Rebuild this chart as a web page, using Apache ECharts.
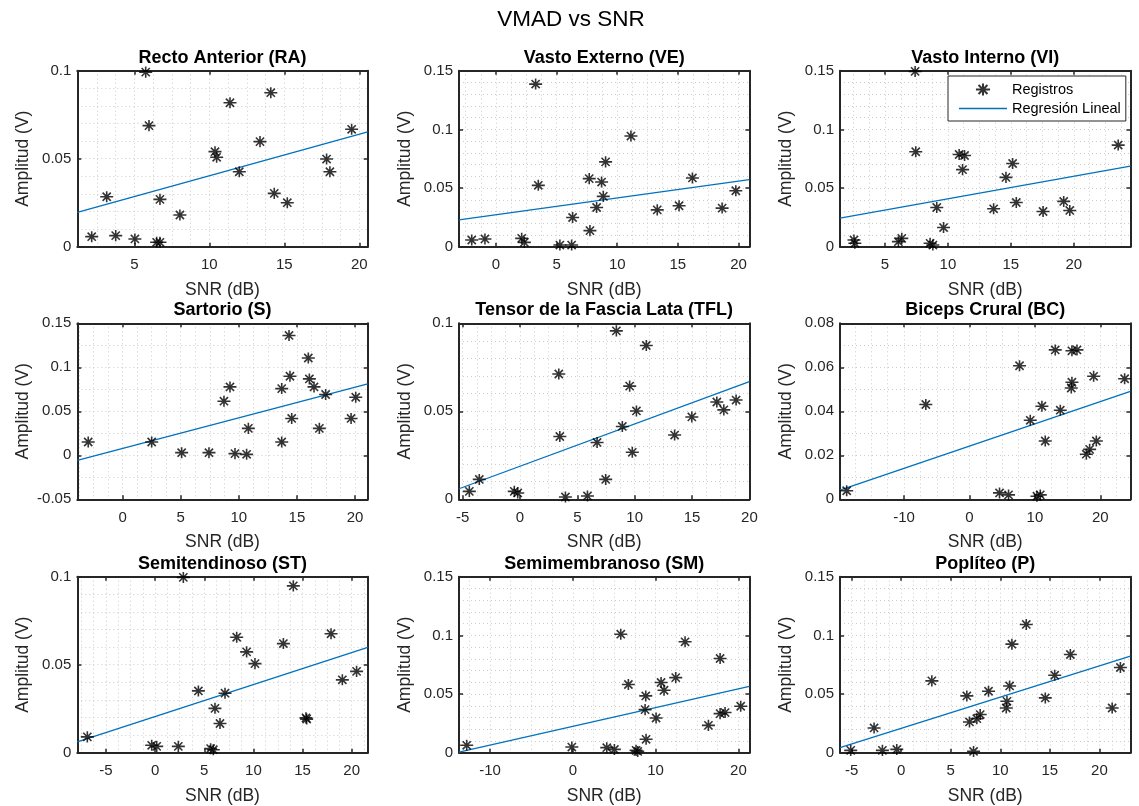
<!DOCTYPE html>
<html>
<head>
<meta charset="utf-8">
<title>VMAD vs SNR</title>
<script src="https://cdn.jsdelivr.net/npm/echarts@6/dist/echarts.min.js"></script>
<style>
  html, body { margin: 0; padding: 0; background: #ffffff; }
  #chart { width: 1139px; height: 806px; }
</style>
</head>
<body>
<div id="chart"></div>
<script>
// ---- Muscle names (subplot titles) ----
const panelTitles = [
  'Recto Anterior (RA)', 'Vasto Externo (VE)', 'Vasto Interno (VI)',
  'Sartorio (S)', 'Tensor de la Fascia Lata (TFL)', 'Biceps Crural (BC)',
  'Semitendinoso (ST)', 'Semimembranoso (SM)', 'Poplíteo (P)'
];

// ---- Recorded SNR (dB) and amplitude (V) per muscle ----
const raSNR = [2.16, 3.16, 3.76, 5.04, 5.76, 5.98, 6.49, 6.71, 6.71, 8.04, 10.38, 10.49, 11.38, 12.0, 13.38, 14.1, 14.33, 15.2, 17.82, 18.04, 19.49];
const raAmp = [0.0057, 0.0284, 0.0063, 0.0044, 0.0992, 0.0688, 0.0025, 0.0025, 0.0269, 0.018, 0.054, 0.0508, 0.0818, 0.0426, 0.0597, 0.0875, 0.0303, 0.025, 0.0498, 0.0426, 0.0667];

const veSNR = [-2.0, -0.91, 2.12, 2.34, 3.27, 3.49, 5.27, 6.24, 6.32, 7.75, 7.69, 8.30, 8.71, 8.85, 9.04, 11.13, 13.30, 15.1, 16.2, 18.65, 19.78];
const veAmp = [0.0057, 0.0066, 0.0071, 0.0037, 0.1386, 0.0523, 0.0014, 0.0014, 0.0249, 0.0137, 0.058, 0.0334, 0.0551, 0.0429, 0.0723, 0.0943, 0.0314, 0.0349, 0.0586, 0.0329, 0.0477];

const viSNR = [2.53, 2.6, 6.06, 6.33, 7.39, 7.44, 8.58, 8.80, 9.11, 9.65, 10.89, 11.32, 11.16, 14.61, 15.14, 13.63, 15.43, 17.56, 19.2, 19.68, 23.53];
const viAmp = [0.0057, 0.0029, 0.0043, 0.0071, 0.1494, 0.0809, 0.0029, 0.0014, 0.0334, 0.0163, 0.0786, 0.0777, 0.0657, 0.0591, 0.0709, 0.0323, 0.0377, 0.03, 0.0386, 0.0309, 0.0866];

const sSNR = [-2.96, 2.5, 5.08, 7.43, 9.67, 10.67, 10.82, 8.72, 9.24, 13.69, 13.69, 14.32, 14.4, 14.55, 15.98, 16.07, 16.47, 16.93, 17.47, 19.66, 20.06];
const sAmp = [0.0151, 0.0151, 0.003, 0.003, 0.0019, 0.0011, 0.0306, 0.0615, 0.0777, 0.0151, 0.0758, 0.1362, 0.0898, 0.0419, 0.1106, 0.0868, 0.0777, 0.0306, 0.0691, 0.0419, 0.066];

const tflSNR = [-4.42, -3.55, -0.5, -0.2, 3.38, 3.47, 3.96, 5.88, 6.72, 7.47, 8.4, 8.92, 9.56, 9.79, 10.15, 11.01, 13.48, 14.98, 17.16, 17.77, 18.84];
const tflAmp = [0.0045, 0.0113, 0.0045, 0.0036, 0.0712, 0.0357, 0.0013, 0.0019, 0.0323, 0.0113, 0.0957, 0.0414, 0.0643, 0.0267, 0.0502, 0.0874, 0.0365, 0.0468, 0.0553, 0.0508, 0.0564];

const bcSNR = [-18.78, -6.68, 4.59, 5.97, 7.65, 9.29, 10.31, 10.82, 11.07, 11.58, 13.11, 13.88, 15.66, 16.43, 15.66, 15.56, 17.86, 18.37, 18.98, 19.39, 23.72];
const bcAmp = [0.0039, 0.0431, 0.0029, 0.002, 0.0607, 0.0359, 0.0014, 0.002, 0.0423, 0.0265, 0.0679, 0.0405, 0.0675, 0.0679, 0.0532, 0.0506, 0.0205, 0.0227, 0.0559, 0.0265, 0.0548];

const stSNR = [-6.9, -0.35, 0.16, 2.36, 2.87, 4.4, 5.65, 5.92, 6.09, 6.6, 7.11, 8.3, 9.31, 10.16, 13.05, 14.06, 15.35, 15.42, 17.9, 19.05, 20.5];
const stAmp = [0.009, 0.0042, 0.0036, 0.0036, 0.0996, 0.0351, 0.0023, 0.0017, 0.0252, 0.0166, 0.0338, 0.0656, 0.0573, 0.0506, 0.062, 0.0948, 0.0198, 0.0191, 0.0676, 0.0414, 0.0462];

const smSNR = [-12.82, -0.12, 4.1, 5.02, 5.79, 6.71, 7.64, 7.84, 8.85, 8.81, 8.73, 10.06, 10.66, 11.02, 12.43, 13.56, 16.38, 17.79, 17.79, 18.39, 20.28];
const smAmp = [0.0063, 0.0048, 0.0043, 0.0028, 0.101, 0.0581, 0.002, 0.0011, 0.0114, 0.0484, 0.0367, 0.0296, 0.0598, 0.0532, 0.064, 0.0945, 0.0233, 0.0803, 0.0333, 0.0342, 0.0396];

const pSNR = [-5.1, -2.74, -1.9, -0.45, 3.09, 6.62, 6.89, 7.3, 7.63, 7.97, 8.81, 10.6, 10.67, 10.94, 11.17, 12.62, 14.54, 15.49, 17.07, 21.29, 22.12];
const pAmp = [0.002, 0.0211, 0.002, 0.0028, 0.0612, 0.0484, 0.0262, 0.0011, 0.029, 0.0325, 0.0524, 0.0381, 0.0438, 0.0569, 0.0925, 0.1093, 0.0467, 0.066, 0.0837, 0.0381, 0.0726];

// ---- Linear regression line end points [SNR, amplitude] ----
const raFit  = [[1.2, 0.0195], [20.56, 0.0652]];
const veFit  = [[-3.05, 0.0229], [20.9, 0.0571]];
const viFit  = [[1.42, 0.0243], [24.5, 0.0686]];
const sFit   = [[-3.9, -0.0057], [21.09, 0.0811]];
const tflFit = [[-5.32, 0.006], [20.0, 0.0669]];
const bcFit  = [[-19.8, 0.0042], [24.6, 0.0491]];
const stFit  = [[-7.92, 0.0061], [21.63, 0.0599]];
const smFit  = [[-13.75, 0.0005], [21.33, 0.0566]];
const pFit   = [[-6.18, 0.0043], [23.13, 0.0823]];

// ---- Axis limits and tick labels ----
const xLimits = [[1.2, 20.56], [-3.05, 20.9], [1.42, 24.5], [-3.9, 21.09], [-5.32, 20.0], [-19.8, 24.6], [-7.92, 21.63], [-13.75, 21.33], [-6.18, 23.13]];
const yLimits = [[0, 0.1], [0, 0.15], [0, 0.15], [-0.05, 0.15], [0, 0.1], [0, 0.08], [0, 0.1], [0, 0.15], [0, 0.15]];
const xTicks = [
  [5, 10, 15, 20], [0, 5, 10, 15, 20], [5, 10, 15, 20],
  [0, 5, 10, 15, 20], [-5, 0, 5, 10, 15, 20], [-10, 0, 10, 20],
  [-5, 0, 5, 10, 15, 20], [-10, 0, 10, 20], [-5, 0, 5, 10, 15, 20]
];
const yTicks = [
  [0, 0.05, 0.1], [0, 0.05, 0.1, 0.15], [0, 0.05, 0.1, 0.15],
  [-0.05, 0, 0.05, 0.1, 0.15], [0, 0.05, 0.1], [0, 0.02, 0.04, 0.06, 0.08],
  [0, 0.05, 0.1], [0, 0.05, 0.1, 0.15], [0, 0.05, 0.1, 0.15]
];
const xMinorStep = [1.25, 1.25, 1.25, 1.25, 1.25, 2.5, 1.25, 2.5, 1.25];
const yMinorStep = [0.01, 0.01, 0.01, 0.025, 0.01, 0.01, 0.01, 0.01, 0.01];

const snrSets = [raSNR, veSNR, viSNR, sSNR, tflSNR, bcSNR, stSNR, smSNR, pSNR];
const ampSets = [raAmp, veAmp, viAmp, sAmp, tflAmp, bcAmp, stAmp, smAmp, pAmp];
const fitSets = [raFit, veFit, viFit, sFit, tflFit, bcFit, stFit, smFit, pFit];

// ---- Layout & style ----
const FONT = '"Liberation Sans", Arial, Helvetica, sans-serif';
const AX = '#262626';
const GRIDC = '#cccccc';
const FITC = '#0072BD';
const colLeft = [77.3, 459, 840];
const rowTop = [70.7, 323.3, 576.7];
const boxW = 290.4;
const boxH = 176;
// asterisk marker: long horizontal bar, vertical bar and two diagonals
const ASTERISK = 'path://M-10,0L10,0M0,-8.5L0,8.5M-6.3,-6.3L6.3,6.3M-6.3,6.3L6.3,-6.3';

const fmt = v => String(+(+v).toFixed(4));

// grid line positions: every minor step strictly inside the limits
function gridValues(lo, hi, step) {
  const out = [];
  const k0 = Math.ceil(lo / step - 1e-9);
  const k1 = Math.floor(hi / step + 1e-9);
  const eps = (hi - lo) * 1e-3;
  for (let k = k0; k <= k1; k++) {
    const v = +(k * step).toFixed(6);
    if (v > lo + eps && v < hi - eps) out.push(v);
  }
  return out;
}

const grids = [], xAxes = [], yAxes = [], series = [], titles = [];

titles.push({
  text: 'VMAD vs SNR', left: 571, top: 8, textAlign: 'center', padding: 0,
  textStyle: { fontFamily: FONT, fontSize: 22.5, fontWeight: 'normal', color: '#000' }
});

for (let p = 0; p < 9; p++) {
  const col = p % 3, row = Math.floor(p / 3);
  const left = colLeft[col], top = rowTop[row];
  grids.push({ left: left, top: top, width: boxW, height: boxH, containLabel: false, outerBoundsMode: 'none' });

  titles.push({
    text: panelTitles[p], left: left + boxW / 2, top: top - 22, textAlign: 'center', padding: 0,
    textStyle: { fontFamily: FONT, fontSize: 18, fontWeight: 'bold', color: '#000' }
  });

  const [xlo, xhi] = xLimits[p];
  const [ylo, yhi] = yLimits[p];
  const lineStyle = { color: AX, width: 2 };
  const tickStyle = { color: AX, width: 1.5 };
  const labelStyle = { fontFamily: FONT, fontSize: 15, color: AX };
  const nameStyle = { fontFamily: FONT, fontSize: 17.5, color: AX };
  const gridLine = { show: true, lineStyle: { color: GRIDC, width: 1, type: [1, 3] } };

  // x axes: bottom (labels), top (box edge), hidden one carrying the grid lines
  xAxes.push({
    gridIndex: p, type: 'value', min: xlo, max: xhi, position: 'bottom',
    axisLine: { show: true, onZero: false, lineStyle: lineStyle },
    axisTick: { show: true, inside: true, length: 4, customValues: xTicks[p], lineStyle: tickStyle },
    axisLabel: { show: true, customValues: xTicks[p], formatter: fmt, margin: 11, ...labelStyle },
    splitLine: { show: false },
    name: 'SNR (dB)', nameLocation: 'middle', nameGap: 34, nameTextStyle: nameStyle
  });
  xAxes.push({
    gridIndex: p, type: 'value', min: xlo, max: xhi, position: 'top',
    axisLine: { show: true, onZero: false, lineStyle: lineStyle },
    axisTick: { show: true, inside: true, length: 4, customValues: xTicks[p], lineStyle: tickStyle },
    axisLabel: { show: false }, splitLine: { show: false }
  });
  const xg = gridValues(xlo, xhi, xMinorStep[p]);
  xAxes.push({
    gridIndex: p, type: 'value', min: xlo, max: xhi, position: 'bottom',
    axisLine: { show: false, onZero: false },
    axisTick: { show: false, customValues: xg },
    axisLabel: { show: false, customValues: xg },
    splitLine: gridLine
  });

  // y axes: left (labels), right (box edge), hidden one carrying the grid lines
  yAxes.push({
    gridIndex: p, type: 'value', min: ylo, max: yhi, position: 'left',
    axisLine: { show: true, onZero: false, lineStyle: lineStyle },
    axisTick: { show: true, inside: true, length: 4, customValues: yTicks[p], lineStyle: tickStyle },
    axisLabel: { show: true, customValues: yTicks[p], formatter: fmt, margin: 6, ...labelStyle },
    splitLine: { show: false },
    name: 'Amplitud (V)', nameLocation: 'middle', nameGap: 45, nameTextStyle: nameStyle
  });
  yAxes.push({
    gridIndex: p, type: 'value', min: ylo, max: yhi, position: 'right',
    axisLine: { show: true, onZero: false, lineStyle: lineStyle },
    axisTick: { show: true, inside: true, length: 4, customValues: yTicks[p], lineStyle: tickStyle },
    axisLabel: { show: false }, splitLine: { show: false }
  });
  const yg = gridValues(ylo, yhi, yMinorStep[p]);
  yAxes.push({
    gridIndex: p, type: 'value', min: ylo, max: yhi, position: 'left',
    axisLine: { show: false, onZero: false },
    axisTick: { show: false, customValues: yg },
    axisLabel: { show: false, customValues: yg },
    splitLine: gridLine
  });

  const snr = snrSets[p], amp = ampSets[p];
  series.push({
    name: 'Registros', type: 'scatter', xAxisIndex: 3 * p, yAxisIndex: 3 * p,
    data: snr.map((x, i) => [x, amp[i]]),
    symbol: ASTERISK, symbolSize: 13, symbolKeepAspect: true,
    itemStyle: { color: 'rgba(0,0,0,0)', borderColor: '#000', borderWidth: 1.6 },
    emphasis: { disabled: true }, z: 3
  });
  series.push({
    name: 'Regresión Lineal', type: 'line', xAxisIndex: 3 * p, yAxisIndex: 3 * p,
    data: fitSets[p], symbol: 'none', showSymbol: false,
    itemStyle: { color: FITC },
    lineStyle: { color: FITC, width: 1.3 },
    emphasis: { disabled: true }, z: 2
  });
}

const chart = echarts.init(document.getElementById('chart'), null, { renderer: 'canvas' });
chart.setOption({
  animation: false,
  backgroundColor: '#ffffff',
  title: titles,
  grid: grids,
  xAxis: xAxes,
  yAxis: yAxes,
  legend: {
    data: [
      { name: 'Registros' },
      {
        name: 'Regresión Lineal',
        icon: 'path://M0,0H48V1.4H0Z',
        itemStyle: { color: FITC, borderWidth: 0 }
      }
    ],
    orient: 'vertical', left: 948, top: 76,
    itemWidth: 48, itemHeight: 12, itemGap: 4,
    padding: [6, 5, 5, 11],
    backgroundColor: '#ffffff', borderColor: AX, borderWidth: 1, borderRadius: 0,
    selectedMode: false,
    textStyle: { fontFamily: FONT, fontSize: 14.5, color: '#000' },
    z: 10
  },
  tooltip: { show: false },
  series: series
});
</script>
</body>
</html>
